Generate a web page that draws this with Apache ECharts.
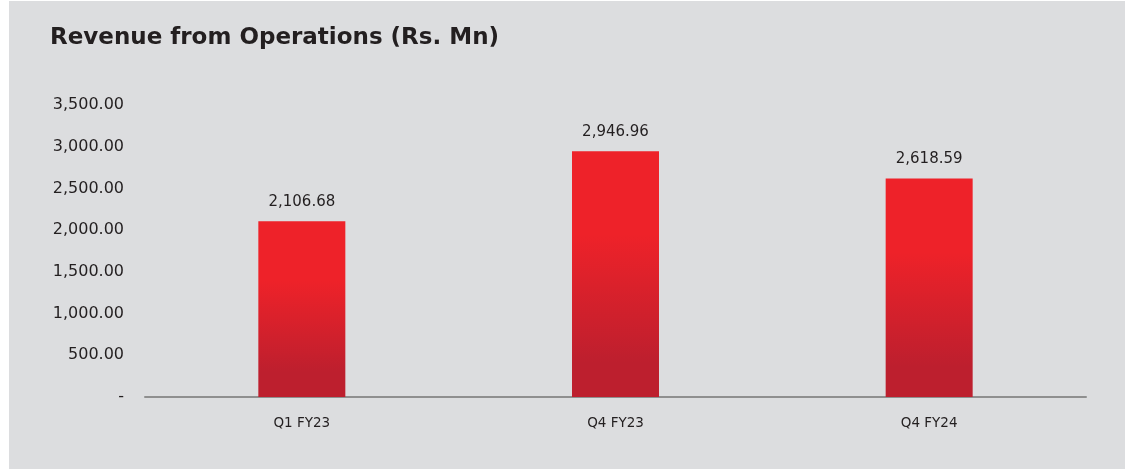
<!DOCTYPE html>
<html>
<head>
<meta charset="utf-8">
<script src="https://cdn.jsdelivr.net/npm/echarts@6/dist/echarts.min.js"></script>
<style>
  html, body { margin: 0; padding: 0; background: #ffffff; }
  #chart { position: absolute; left: 9px; top: 1px; width: 1116px; height: 468px; background: #dcdddf; }
</style>
</head>
<body>
<div id="chart"></div>
<script>
const categories = ['Q1 FY23', 'Q4 FY23', 'Q4 FY24']
const revenue = [2106.68, 2946.96, 2618.59]
const yTicks = [0, 500, 1000, 1500, 2000, 2500, 3000, 3500]

const fmt = v => v.toLocaleString('en-US', { minimumFractionDigits: 2, maximumFractionDigits: 2 })
const textColor = '#231f20'

const chart = echarts.init(document.getElementById('chart'))
chart.setOption({
  backgroundColor: '#dcdddf',
  animation: false,
  title: {
    text: 'Revenue from Operations (Rs. Mn)',
    left: 36,
    top: 21,
    textStyle: { fontFamily: 'DejaVu Sans', fontWeight: 'bold', fontSize: 23, color: textColor }
  },
  grid: { left: 136, right: 39, top: 104, bottom: 72, containLabel: false },
  xAxis: {
    type: 'category',
    data: categories,
    axisLine: { show: true, lineStyle: { color: '#8f8f8f', width: 2 } },
    axisTick: { show: false },
    axisLabel: { margin: 19, fontFamily: 'DejaVu Sans', fontSize: 13.5, color: textColor }
  },
  yAxis: {
    type: 'value',
    min: yTicks[0],
    max: yTicks[yTicks.length - 1],
    interval: 500,
    axisLine: { show: false },
    axisTick: { show: false },
    splitLine: { show: false },
    axisLabel: {
      margin: 21,
      fontFamily: 'DejaVu Sans',
      fontSize: 16,
      color: textColor,
      formatter: v => (v === 0 ? '-' : fmt(v))
    }
  },
  series: [{
    type: 'bar',
    data: revenue,
    barWidth: 87,
    itemStyle: {
      color: new echarts.graphic.LinearGradient(0, 0, 0, 1, [
        { offset: 0, color: '#ee2229' },
        { offset: 0.34, color: '#ee2229' },
        { offset: 0.86, color: '#bd1f2e' },
        { offset: 1, color: '#bd1f2e' }
      ])
    },
    label: {
      show: true,
      position: 'top',
      distance: 12,
      fontFamily: 'DejaVu Sans',
      fontSize: 15,
      color: textColor,
      formatter: p => fmt(p.value)
    }
  }]
})
</script>
</body>
</html>
